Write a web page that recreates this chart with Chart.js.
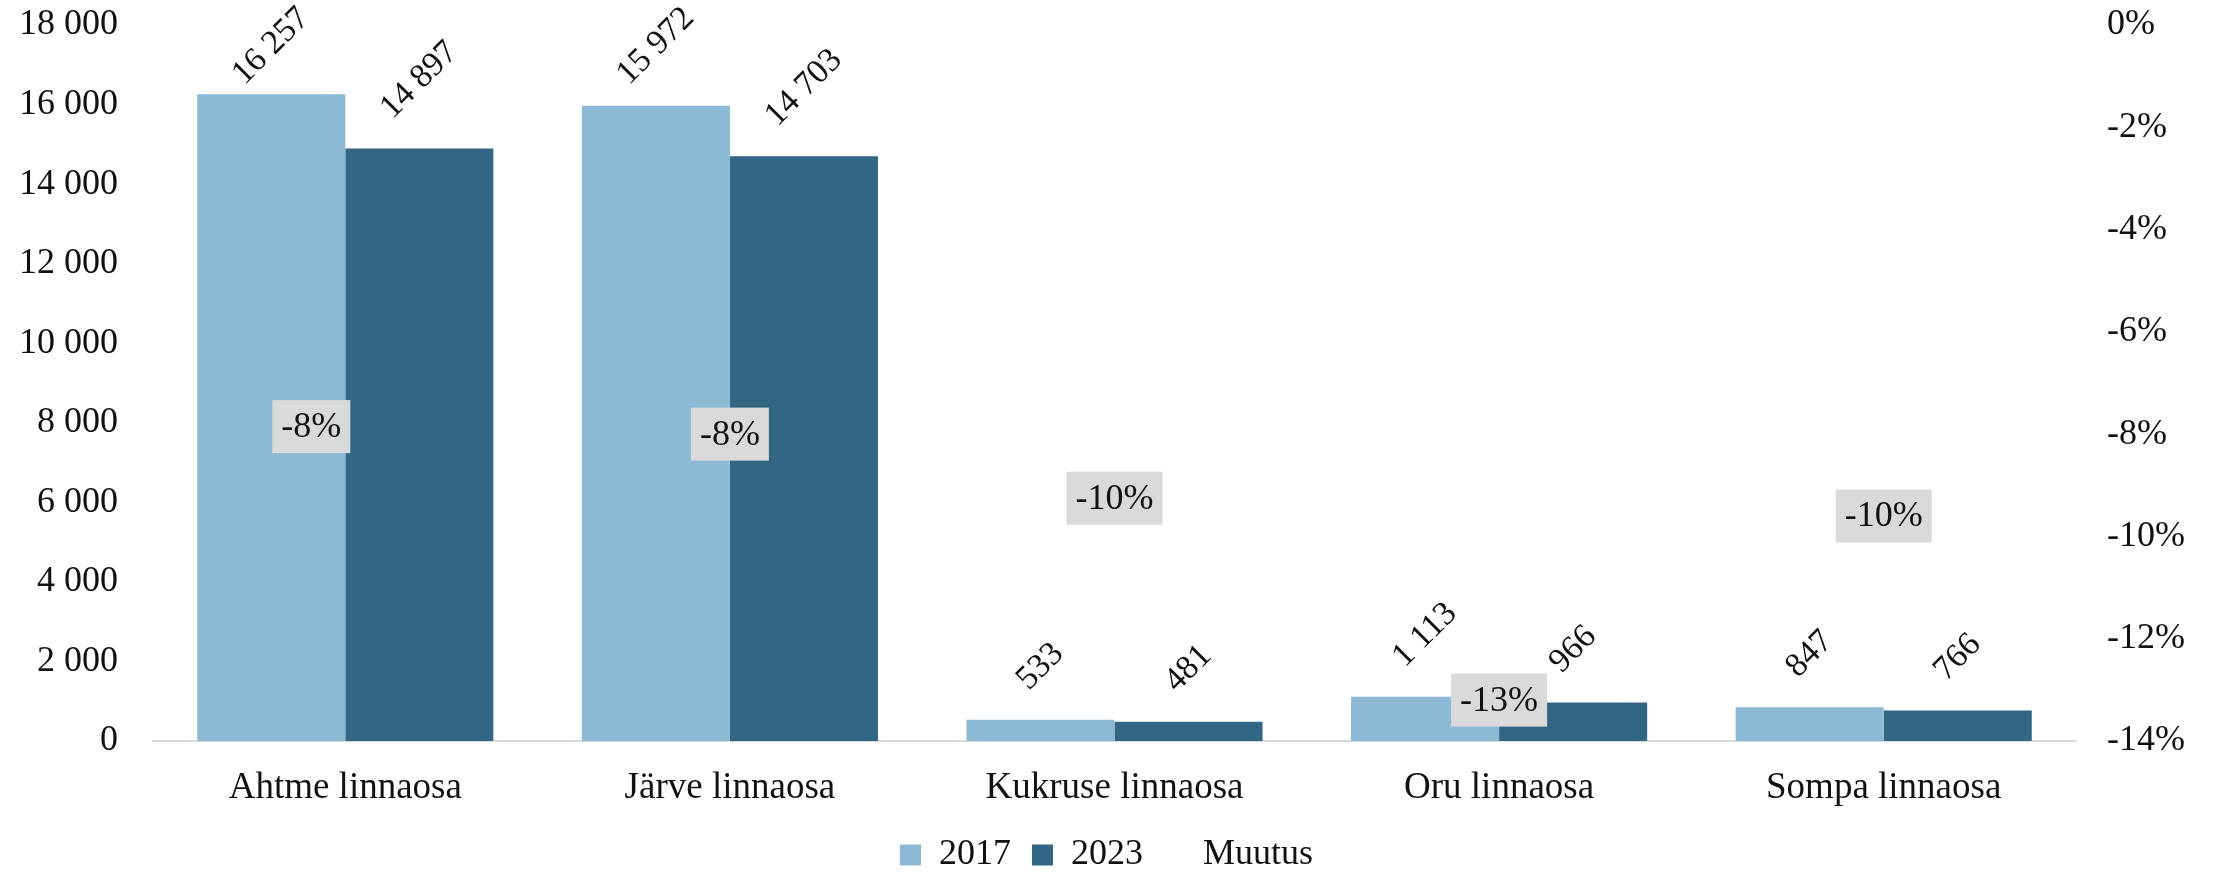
<!DOCTYPE html>
<html>
<head>
<meta charset="utf-8">
<script src="https://cdn.jsdelivr.net/npm/chart.js@4"></script>
<style>
  html, body { margin: 0; padding: 0; background: #fff; }
  #wrap { width: 2213px; height: 872px; }
</style>
</head>
<body>
<div id="wrap"><canvas id="chart" width="2213" height="872"></canvas></div>
<script>
// values
const districts = ["Ahtme linnaosa", "Järve linnaosa", "Kukruse linnaosa", "Oru linnaosa", "Sompa linnaosa"];
const pop2017 = [16257, 15972, 533, 1113, 847];
const pop2023 = [14897, 14703, 481, 966, 766];
const changePct = [-8.4, -8.0, -9.8, -13.2, -9.6];
const seriesNames = ["2017", "2023", "Muutus"];

const FONT = "'Liberation Serif', 'DejaVu Serif', serif";
const TEXT = "#111111";
const LIGHT = "#8cb9d4";
const DARK = "#316785";
const BOX_GREY = "#d9d9d9";

// the change labels were nudged by hand in the original
const changeLabelShift = [[-34, -28], [0, 0], [0, -28], [0, 0], [0, 0]];

const fmt = (v) => String(v).replace(/\B(?=(\d{3})+(?!\d))/g, " ");

const labelPlugin = {
    id: "labels",
    afterDatasetsDraw(chart) {
        const ctx = chart.ctx;
        ctx.save();
        // rotated value labels above the bars
        ctx.font = "34px " + FONT;
        ctx.fillStyle = TEXT;
        ctx.textAlign = "center";
        ctx.textBaseline = "middle";
        [0, 1].forEach((di) => {
            const meta = chart.getDatasetMeta(di);
            meta.data.forEach((bar, i) => {
                const text = fmt(chart.data.datasets[di].data[i]);
                const w = ctx.measureText(text).width;
                const half = (w + 23) * Math.SQRT1_2 / 2;
                const cy = Math.max(bar.y - half - 27, half + 5);
                ctx.save();
                ctx.translate(bar.x, cy);
                ctx.rotate(-Math.PI / 4);
                ctx.fillText(text, 0, 0);
                ctx.restore();
            });
        });
        // change labels in grey boxes
        ctx.font = "36px " + FONT;
        const meta = chart.getDatasetMeta(2);
        meta.data.forEach((pt, i) => {
            const text = Math.round(changePct[i]) + "%";
            const w = ctx.measureText(text).width;
            const bw = w + 18, bh = 53;
            const cx = pt.x + changeLabelShift[i][0];
            const cy = pt.y + changeLabelShift[i][1];
            ctx.fillStyle = BOX_GREY;
            ctx.fillRect(cx - bw / 2, cy - bh / 2, bw, bh);
            ctx.fillStyle = TEXT;
            ctx.fillText(text, cx, cy + 1);
        });
        ctx.restore();
    },
};

// fixed axis sizes so the plot area lands where the original has it
const fitSide = (width) => (s) => {
    s.width = width;
    s.paddingTop = 0;
    s.paddingBottom = 0;
};

new Chart(document.getElementById("chart"), {
    data: {
        labels: districts,
        datasets: [
            {
                type: "bar",
                label: seriesNames[0],
                data: pop2017,
                backgroundColor: LIGHT,
                yAxisID: "y",
                categoryPercentage: 0.77,
                barPercentage: 1.0,
            },
            {
                type: "bar",
                label: seriesNames[1],
                data: pop2023,
                backgroundColor: DARK,
                yAxisID: "y",
                categoryPercentage: 0.77,
                barPercentage: 1.0,
            },
            {
                type: "line",
                label: seriesNames[2],
                data: changePct,
                yAxisID: "y1",
                showLine: false,
                pointRadius: 0,
                borderColor: "rgba(0,0,0,0)",
                backgroundColor: "rgba(0,0,0,0)",
            },
        ],
    },
    options: {
        responsive: false,
        animation: false,
        layout: {
            padding: { top: 25, left: 0, right: 0, bottom: -11 },
        },
        plugins: {
            legend: {
                display: true,
                position: "bottom",
                labels: {
                    boxWidth: 21,
                    boxHeight: 21,
                    padding: 21,
                    color: TEXT,
                    font: { family: FONT, size: 36 },
                },
            },
            tooltip: { enabled: false },
        },
        scales: {
            x: {
                grid: { display: false, drawTicks: false },
                border: { display: true, color: BOX_GREY, width: 2 },
                ticks: {
                    color: TEXT,
                    padding: 25,
                    maxRotation: 0,
                    font: { family: FONT, size: 37 },
                },
                afterFit: (s) => { s.height = 75; },
            },
            y: {
                position: "left",
                min: 0,
                max: 18000,
                grid: { display: false, drawTicks: false },
                border: { display: false },
                ticks: {
                    stepSize: 2000,
                    color: TEXT,
                    padding: 35,
                    font: { family: FONT, size: 36 },
                    callback: (v) => fmt(v),
                },
                afterFit: fitSide(153),
            },
            y1: {
                position: "right",
                min: -14,
                max: 0,
                grid: { display: false, drawTicks: false },
                border: { display: false },
                ticks: {
                    stepSize: 2,
                    color: TEXT,
                    padding: 31,
                    font: { family: FONT, size: 36 },
                    callback: (v) => (v === 0 ? "0" : v) + "%",
                },
                afterFit: fitSide(137),
            },
        },
    },
    plugins: [labelPlugin],
});
</script>
</body>
</html>
